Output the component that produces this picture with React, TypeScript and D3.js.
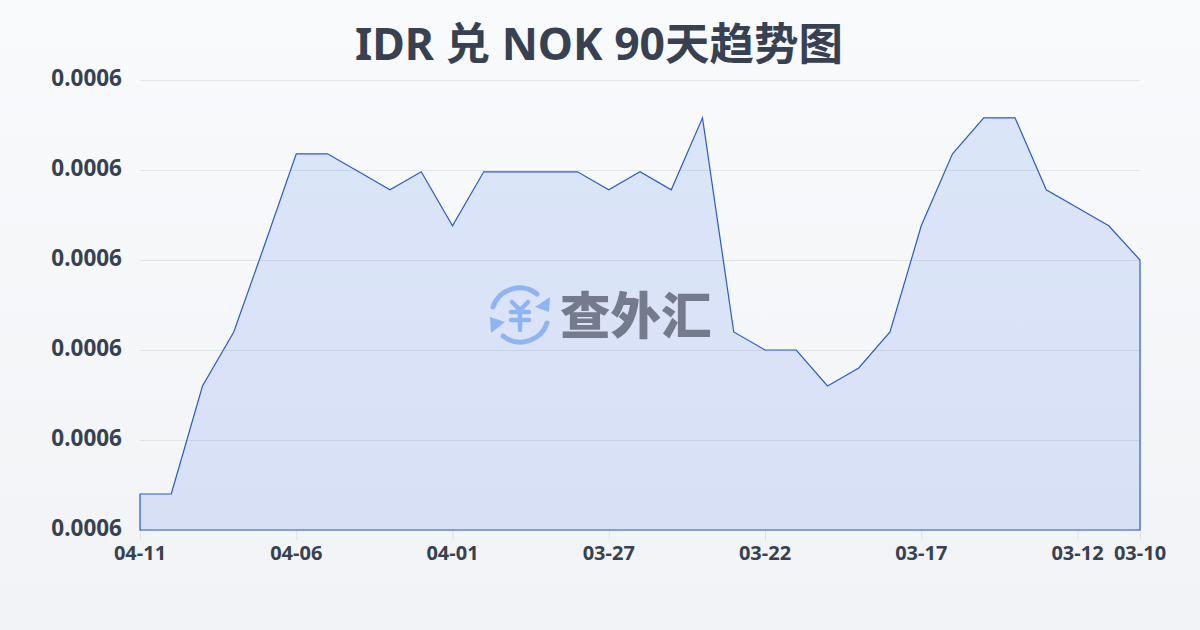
import * as d3 from 'd3';

const dates = [
  '04-11', '04-10', '04-09', '04-08', '04-07', '04-06', '04-05', '04-04', '04-03', '04-02', '04-01',
  '03-31', '03-30', '03-29', '03-28', '03-27', '03-26', '03-25', '03-24', '03-23', '03-22',
  '03-21', '03-20', '03-19', '03-18', '03-17', '03-16', '03-15', '03-14', '03-13', '03-12', '03-11', '03-10',
];
const rates = [
  0.0006020, 0.0006020, 0.0006080, 0.0006110, 0.0006159, 0.0006209, 0.0006209, 0.0006199, 0.0006189, 0.0006199, 0.0006169,
  0.0006199, 0.0006199, 0.0006199, 0.0006199, 0.0006189, 0.0006199, 0.0006189, 0.0006229, 0.0006110, 0.0006100,
  0.0006100, 0.0006080, 0.0006090, 0.0006110, 0.0006169, 0.0006209, 0.0006229, 0.0006229, 0.0006189, 0.0006179, 0.0006169, 0.0006150,
];
const yTicks = [0.0006, 0.000605, 0.00061, 0.000615, 0.00062, 0.000625];
const xLabels = ['04-11', '04-06', '04-01', '03-27', '03-22', '03-17', '03-12', '03-10'];

const width = 1200;
const height = 630;
const margin = { top: 80, right: 60, bottom: 100, left: 140 };
const textColor = '#374151';
const font = '"Noto Sans", "Noto Sans CJK SC", sans-serif';

export default function App() {
  const x = d3.scalePoint<string>().domain(dates).range([margin.left, width - margin.right]);
  const y = d3.scaleLinear().domain([0.0006, 0.000625]).range([height - margin.bottom, margin.top]);

  const area = d3.area<number>()
    .x((_, i) => x(dates[i]) as number)
    .y0(y(0.0006))
    .y1(d => y(d));

  // outline closes along the bottom as well
  const outline = area(rates) as string;

  return (
    <svg
      width={width}
      height={height}
      style={{ position: 'absolute', left: 0, top: 0, display: 'block' }}
      fontFamily={font}
    >
      <defs>
        <linearGradient id="bg" x1="0" y1="0" x2="0" y2="1">
          <stop offset="0%" stopColor="#f8fafc" />
          <stop offset="100%" stopColor="#f1f3f6" />
        </linearGradient>
        <linearGradient id="fill" x1="0" y1="0" x2="0" y2="1">
          <stop offset="0%" stopColor="#dbe5f8" />
          <stop offset="100%" stopColor="#d8e0f5" />
        </linearGradient>
      </defs>
      <rect width={width} height={height} fill="url(#bg)" />

      <text x={599} y={60} textAnchor="middle" fontSize={44.5} fontWeight={700} fill={textColor}>
        IDR 兑 NOK 90天趋势图
      </text>

      <path d={outline} fill="url(#fill)" stroke="none" />

      {yTicks.map(t => (
        <g key={t}>
          <line x1={margin.left} x2={width - margin.right} y1={y(t) + 0.5} y2={y(t) + 0.5} stroke="#374151" strokeOpacity={0.1} />
          <text x={122} y={y(t) + 6} textAnchor="end" fontSize={22.5} fontWeight={700} fill={textColor}>
            {t.toFixed(4)}
          </text>
        </g>
      ))}

      <path d={outline} fill="none" stroke="#2a5cc0" strokeWidth={1.2} />

      {xLabels.map(d => (
        <g key={d}>
          <line x1={(x(d) as number) + 0.5} x2={(x(d) as number) + 0.5} y1={height - margin.bottom} y2={height - margin.bottom + 10} stroke="#374151" strokeOpacity={0.1} />
          <text x={x(d)} y={560} textAnchor="middle" fontSize={20} fontWeight={700} fill={textColor}>
            {d}
          </text>
        </g>
      ))}

      {/* watermark */}
      <g transform="translate(520,315)" fill="none" stroke="#8fb4f2" strokeWidth={5} strokeLinecap="round">
        <path d="M-27,-8 A28,28 0 0 1 17,-21" />
        <path d="M27,8 A28,28 0 0 1 -17,21" />
        <path d="M30,-18 L29,-3 L15,-8 Z" fill="#8fb4f2" stroke="none" />
        <path d="M-30,2 L-29,18 L-15,7 Z" fill="#8fb4f2" stroke="none" />
        <path d="M-8,-13 L0,-5 L8,-13 M-9,-3 H9 M-9,5 H9 M0,-5 V15" strokeWidth={4.5} />
      </g>
      <text x={560} y={334} fontSize={50.5} fontWeight={900} fill="#737b8c" fontFamily='"Noto Sans CJK SC", sans-serif'>
        查外汇
      </text>
    </svg>
  );
}
